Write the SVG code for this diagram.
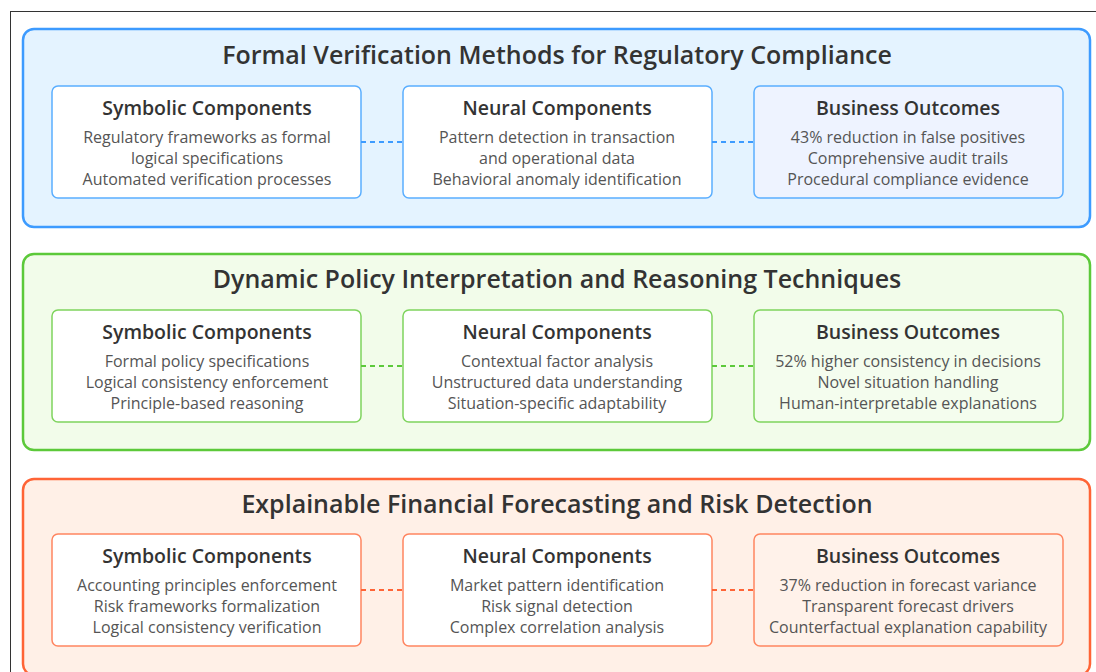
<svg xmlns="http://www.w3.org/2000/svg" width="1096" height="672" viewBox="0 0 1096 672">
  <style>
    .frame { fill: #ffffff; stroke: #333333; stroke-width: 1; }
    .sec { stroke-width: 2.5; }
    .sec-blue { fill: #e4f3ff; stroke: #3d9bff; }
    .sec-green { fill: #f2fcea; stroke: #5cc93a; }
    .sec-orange { fill: #fff0e7; stroke: #ff6436; }
    .box { stroke-width: 1.5; fill: #ffffff; }
    .box-blue { stroke: #5aaeff; }
    .box-green { stroke: #7fd45e; }
    .box-orange { stroke: #ff8560; }
    .out-blue { fill: #eef3ff; }
    .out-green { fill: #f4fdee; }
    .out-orange { fill: #fff2ea; }
    .title { font-family: "Open Sans", "Liberation Sans", Arial, sans-serif; font-size: 25px; font-weight: 600; fill: #333333; text-anchor: middle; }
    .head { font-family: "Open Sans", "Liberation Sans", Arial, sans-serif; font-size: 19.5px; font-weight: 600; fill: #333333; text-anchor: middle; }
    .item { font-family: "Open Sans", "Liberation Sans", Arial, sans-serif; font-size: 16px; fill: #555555; text-anchor: middle; }
    .link { fill: none; stroke-width: 2; stroke-dasharray: 5 4; }
    .link-blue { stroke: #3d9bff; }
    .link-green { stroke: #5cc93a; }
    .link-orange { stroke: #ff6436; }
  </style>

  <!-- page frame -->
  <rect class="frame" x="10.5" y="11.5" width="1100" height="680"/>

  <!-- section 1: formal verification -->
  <g id="section-formal-verification">
    <rect class="sec sec-blue" x="23" y="29" width="1067" height="198" rx="11"/>
    <text class="title" x="557" y="64">Formal Verification Methods for Regulatory Compliance</text>
  </g>
  <g id="fv-symbolic">
    <rect class="box box-blue" x="52" y="86" width="309" height="112" rx="6"/>
    <text class="head" x="207" y="115">Symbolic Components</text>
    <text class="item" x="207" y="143">Regulatory frameworks as formal</text>
    <text class="item" x="207" y="164">logical specifications</text>
    <text class="item" x="207" y="185">Automated verification processes</text>
  </g>
  <g id="fv-neural">
    <rect class="box box-blue" x="403" y="86" width="309" height="112" rx="6"/>
    <text class="head" x="557" y="115">Neural Components</text>
    <text class="item" x="557" y="143">Pattern detection in transaction</text>
    <text class="item" x="557" y="164">and operational data</text>
    <text class="item" x="557" y="185">Behavioral anomaly identification</text>
  </g>
  <g id="fv-outcomes">
    <rect class="box box-blue out-blue" x="754" y="86" width="309" height="112" rx="6"/>
    <text class="head" x="908" y="115">Business Outcomes</text>
    <text class="item" x="908" y="143">43% reduction in false positives</text>
    <text class="item" x="908" y="164">Comprehensive audit trails</text>
    <text class="item" x="908" y="185">Procedural compliance evidence</text>
  </g>

  <!-- section 2: dynamic policy interpretation -->
  <g id="section-dynamic-policy">
    <rect class="sec sec-green" x="23" y="254" width="1067" height="196" rx="11"/>
    <text class="title" x="557" y="288">Dynamic Policy Interpretation and Reasoning Techniques</text>
  </g>
  <g id="dp-symbolic">
    <rect class="box box-green" x="52" y="310" width="309" height="112" rx="6"/>
    <text class="head" x="207" y="339">Symbolic Components</text>
    <text class="item" x="207" y="367">Formal policy specifications</text>
    <text class="item" x="207" y="388">Logical consistency enforcement</text>
    <text class="item" x="207" y="409">Principle-based reasoning</text>
  </g>
  <g id="dp-neural">
    <rect class="box box-green" x="403" y="310" width="309" height="112" rx="6"/>
    <text class="head" x="557" y="339">Neural Components</text>
    <text class="item" x="557" y="367">Contextual factor analysis</text>
    <text class="item" x="557" y="388">Unstructured data understanding</text>
    <text class="item" x="557" y="409">Situation-specific adaptability</text>
  </g>
  <g id="dp-outcomes">
    <rect class="box box-green out-green" x="754" y="310" width="309" height="112" rx="6"/>
    <text class="head" x="908" y="339">Business Outcomes</text>
    <text class="item" x="908" y="367">52% higher consistency in decisions</text>
    <text class="item" x="908" y="388">Novel situation handling</text>
    <text class="item" x="908" y="409">Human-interpretable explanations</text>
  </g>

  <!-- section 3: explainable forecasting -->
  <g id="section-financial-forecasting">
    <rect class="sec sec-orange" x="23" y="479" width="1067" height="196" rx="11"/>
    <text class="title" x="557" y="513">Explainable Financial Forecasting and Risk Detection</text>
  </g>
  <g id="ff-symbolic">
    <rect class="box box-orange" x="52" y="534" width="309" height="112" rx="6"/>
    <text class="head" x="207" y="563">Symbolic Components</text>
    <text class="item" x="207" y="591">Accounting principles enforcement</text>
    <text class="item" x="207" y="612">Risk frameworks formalization</text>
    <text class="item" x="207" y="633">Logical consistency verification</text>
  </g>
  <g id="ff-neural">
    <rect class="box box-orange" x="403" y="534" width="309" height="112" rx="6"/>
    <text class="head" x="557" y="563">Neural Components</text>
    <text class="item" x="557" y="591">Market pattern identification</text>
    <text class="item" x="557" y="612">Risk signal detection</text>
    <text class="item" x="557" y="633">Complex correlation analysis</text>
  </g>
  <g id="ff-outcomes">
    <rect class="box box-orange out-orange" x="754" y="534" width="309" height="112" rx="6"/>
    <text class="head" x="908" y="563">Business Outcomes</text>
    <text class="item" x="908" y="591">37% reduction in forecast variance</text>
    <text class="item" x="908" y="612">Transparent forecast drivers</text>
    <text class="item" x="908" y="633">Counterfactual explanation capability</text>
  </g>

  <!-- dashed links between component boxes -->
  <g id="connectors">
    <line class="link link-blue" x1="361" y1="142" x2="403" y2="142"/>
    <line class="link link-blue" x1="712" y1="142" x2="754" y2="142"/>
    <line class="link link-green" x1="361" y1="366" x2="403" y2="366"/>
    <line class="link link-green" x1="712" y1="366" x2="754" y2="366"/>
    <line class="link link-orange" x1="361" y1="590" x2="403" y2="590"/>
    <line class="link link-orange" x1="712" y1="590" x2="754" y2="590"/>
  </g>
</svg>
